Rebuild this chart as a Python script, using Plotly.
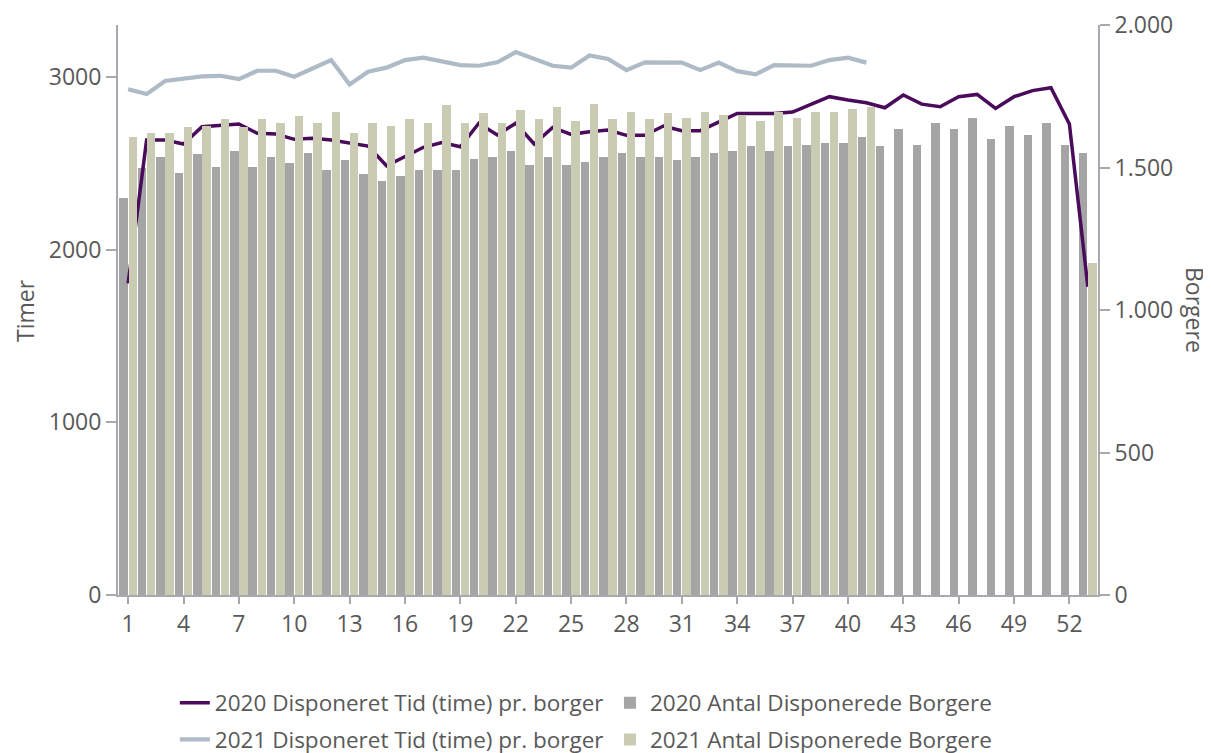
import plotly.graph_objects as go

# ---- data ----
weeks_2020 = list(range(1, 54))
borgere_2020 = [1392, 1499, 1538, 1482, 1546, 1502, 1558, 1502, 1538, 1517, 1550, 1490, 1526,
                1477, 1454, 1470, 1490, 1490, 1490, 1530, 1538, 1558, 1510, 1538, 1510, 1518,
                1538, 1550, 1538, 1538, 1526, 1538, 1550, 1558, 1574, 1558, 1574, 1578, 1586,
                1587, 1607, 1574, 1635, 1578, 1655, 1635, 1675, 1599, 1647, 1614, 1655, 1578, 1550]
timer_2020 = [1804, 2634, 2634, 2611, 2711, 2721, 2727, 2673, 2669, 2638, 2644, 2634, 2619,
              2599, 2485, 2541, 2592, 2619, 2595, 2731, 2663, 2731, 2611, 2707, 2667, 2682,
              2692, 2661, 2661, 2715, 2688, 2688, 2740, 2788, 2788, 2788, 2796, 2840, 2885,
              2866, 2850, 2821, 2895, 2842, 2827, 2885, 2898, 2817, 2885, 2920, 2937, 2727, 1785]

weeks_2021_bars = list(range(1, 42)) + [53]
borgere_2021 = [1606, 1622, 1622, 1642, 1647, 1670, 1643, 1670, 1655, 1682, 1655, 1695, 1622,
                1655, 1647, 1670, 1655, 1719, 1655, 1690, 1655, 1703, 1670, 1711, 1663, 1723,
                1670, 1695, 1670, 1690, 1675, 1695, 1683, 1683, 1663, 1695, 1675, 1695, 1695,
                1704, 1711, 1164]
weeks_2021_line = list(range(1, 42))
timer_2021 = [2928, 2900, 2976, 2987, 3003, 3006, 2987, 3035, 3035, 3001, 3049, 3097, 2956,
              3029, 3053, 3097, 3111, 3087, 3068, 3064, 3084, 3143, 3103, 3064, 3053, 3124,
              3103, 3039, 3084, 3084, 3082, 3039, 3082, 3033, 3014, 3068, 3064, 3064, 3097,
              3111, 3082]

x_ticks = list(range(1, 53, 3))

name_l20 = "2020 Disponeret Tid (time) pr. borger"
name_l21 = "2021 Disponeret Tid (time) pr. borger"
name_b20 = "2020 Antal Disponerede Borgere"
name_b21 = "2021 Antal Disponerede Borgere"

C_GRAY = "#a5a5a5"
C_GREEN = "#c9ccb2"
C_PURPLE = "#4a0b5a"
C_BLUE = "#aebac5"
C_AXIS = "#a6a9ad"
C_TEXT = "#595959"
FONT = "Open Sans"

fig = go.Figure()
fig.add_trace(go.Bar(x=weeks_2020, y=borgere_2020, name=name_b20, marker_color=C_GRAY,
                     marker_line_width=0, offset=-0.48, width=0.46, yaxis="y",
                     legend="legend2", showlegend=True))
fig.add_trace(go.Scatter(x=weeks_2020, y=timer_2020, name=name_l20, mode="lines",
                         line=dict(color=C_PURPLE, width=3.5), yaxis="y2",
                         legend="legend", showlegend=True))
fig.add_trace(go.Bar(x=weeks_2021_bars, y=borgere_2021, name=name_b21, marker_color=C_GREEN,
                     marker_line_width=0, offset=0.02, width=0.46, yaxis="y3",
                     legend="legend4", showlegend=True))
fig.add_trace(go.Scatter(x=weeks_2021_line, y=timer_2021, name=name_l21, mode="lines",
                         line=dict(color=C_BLUE, width=4.2), yaxis="y4",
                         legend="legend3", showlegend=True))

tickfont = dict(family=FONT, size=23, color=C_TEXT)
legfont = dict(family=FONT, size=22.5, color=C_TEXT)


def leg(x, y):
    return dict(x=x, y=y, xanchor="left", yanchor="middle", orientation="v",
                font=legfont, bgcolor="rgba(0,0,0,0)", visible=True)


fig.update_layout(
    width=1211, height=753,
    showlegend=True,
    margin=dict(l=110, r=121, t=17, b=166, autoexpand=False),
    paper_bgcolor="white", plot_bgcolor="white",
    separators=",.",
    font=dict(family=FONT, color=C_TEXT),
    xaxis=dict(range=[0.45, 53.55], tickmode="array", tickvals=x_ticks, automargin=False,
               showgrid=False, zeroline=False, showline=True, linecolor=C_AXIS, linewidth=2,
               ticks="outside", ticklen=7, tickcolor=C_AXIS, tickwidth=1.5,
               tickfont=tickfont, anchor="y"),
    yaxis=dict(range=[0, 2000], side="right", tickvals=[0, 500, 1000, 1500, 2000],
               tickformat=",d", showgrid=False, zeroline=False, showline=True, automargin=False,
               linecolor=C_AXIS, linewidth=2, ticks="outside", ticklen=10,
               tickcolor=C_AXIS, tickwidth=1.5, tickfont=tickfont),
    yaxis2=dict(range=[0, 3300], side="left", overlaying="y", tickvals=[0, 1000, 2000, 3000],
                showgrid=False, zeroline=False, showline=True, linecolor=C_AXIS, linewidth=2,
                automargin=False,
                ticks="outside", ticklen=10, tickcolor=C_AXIS, tickwidth=1.5, tickfont=tickfont),
    yaxis3=dict(range=[0, 2000], overlaying="y", visible=False),
    yaxis4=dict(range=[0, 3300], overlaying="y", visible=False),
    legend=leg(0.058, -0.1895),
    legend2=leg(0.502, -0.1895),
    legend3=leg(0.058, -0.254),
    legend4=leg(0.502, -0.254),
    bargap=0,
    annotations=[
        dict(text="Timer", xref="paper", yref="paper", x=-0.095, y=0.5, showarrow=False,
             xanchor="center", yanchor="middle",
             textangle=-90, font=dict(family=FONT, size=23, color=C_TEXT)),
        dict(text="Borgere", xref="paper", yref="paper", x=1.099, y=0.5, showarrow=False,
             xanchor="center", yanchor="middle",
             textangle=90, font=dict(family=FONT, size=23, color=C_TEXT)),
    ],
)

fig.write_html("out.html")
